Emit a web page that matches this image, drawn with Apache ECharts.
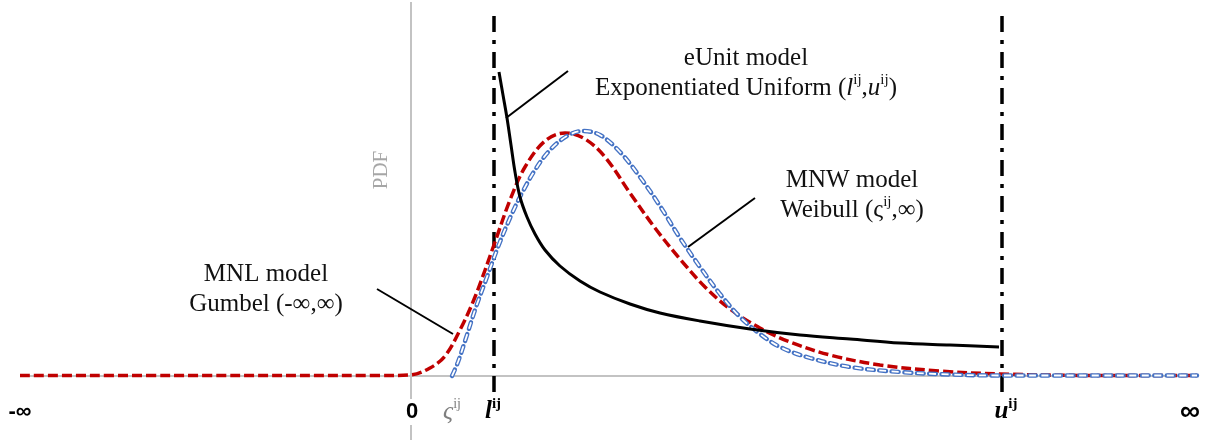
<!DOCTYPE html>
<html>
<head>
<meta charset="utf-8">
<script src="https://cdn.jsdelivr.net/npm/echarts@6/dist/echarts.min.js"></script>
<style>
  html, body { margin: 0; padding: 0; background: #ffffff; }
  #chart { width: 1208px; height: 440px; }
</style>
</head>
<body>
<div id="chart"></div>
<script>
// Position on the latent utility axis (0 at the origin) and density heights.
const gumbelX = [-3.90, -2.10, -0.30, 0.00, 0.20, 0.35, 0.50, 0.65, 0.85, 1.00, 1.15, 1.35, 1.55, 1.75, 1.95, 2.20, 2.45, 2.70, 2.95, 3.20, 3.50, 3.80, 4.20, 4.70, 5.30, 5.90, 6.90, 7.87];
const gumbelY = [0.005, 0.005, 0.005, 0.01, 0.08, 0.20, 0.46, 0.79, 1.34, 1.76, 2.09, 2.35, 2.43, 2.37, 2.19, 1.83, 1.48, 1.17, 0.89, 0.67, 0.48, 0.34, 0.21, 0.11, 0.05, 0.02, 0.005, 0.005];

const weibullX = [0.42, 0.48, 0.56, 0.66, 0.77, 0.88, 1.00, 1.12, 1.25, 1.40, 1.57, 1.73, 1.90, 2.10, 2.30, 2.50, 2.70, 2.90, 3.10, 3.30, 3.50, 3.70, 4.00, 4.40, 4.90, 5.40, 5.90, 7.87];
const weibullY = [0.0, 0.14, 0.38, 0.69, 0.99, 1.29, 1.58, 1.83, 2.06, 2.26, 2.40, 2.45, 2.41, 2.24, 1.99, 1.70, 1.38, 1.09, 0.82, 0.59, 0.42, 0.29, 0.18, 0.09, 0.04, 0.015, 0.005, 0.005];

const eunitX = [0.89, 0.93, 0.97, 1.01, 1.05, 1.10, 1.17, 1.25, 1.35, 1.50, 1.70, 1.90, 2.20, 2.50, 2.90, 3.40, 3.90, 4.40, 4.90, 5.40, 5.89];
const eunitY = [3.04, 2.81, 2.58, 2.31, 2.04, 1.79, 1.59, 1.42, 1.26, 1.10, 0.95, 0.84, 0.72, 0.63, 0.55, 0.47, 0.41, 0.37, 0.33, 0.31, 0.29];

// Support bounds on the axis
const lowerBound = 0.84;   // l^ij
const upperBound = 5.92;   // u^ij
const weibullStart = 0.42; // ς^ij

// Tick labels along the horizontal axis: [x, text]
const tickLabels = [
  [-3.90, '{b|-∞}'],
  [0.02, '{z|0}'],
  [weibullStart, '{gi|ς}{gs|ij}'],
  [lowerBound - 0.01, '{bi|l}{bs|ij}'],
  [upperBound + 0.04, '{bi|u}{bs|ij}'],
  [7.80, '{inf|∞}']
];

// Leader lines from each caption to its curve: [[x1,y1],[x2,y2]]
const leaders = [
  [[1.58, 3.05], [0.96, 2.58]],
  [[3.45, 1.78], [2.78, 1.29]],
  [[-0.33, 0.87], [0.43, 0.42]]
];

// Captions: [x, y, text]
const captions = [
  [3.36, 3.03, '{t|eUnit model}\n{t|Exponentiated Uniform (}{ti|l}{ts|ij}{t|,}{ti|u}{ts|ij}{t|)}'],
  [4.42, 1.81, '{t|MNW model}\n{t|Weibull (ς}{ts|ij}{t|,∞)}'],
  [-1.44, 0.87, '{t|MNL model}\n{t|Gumbel (-∞,∞)}']
];

const pairs = (xs, ys) => xs.map((x, i) => [x, ys[i]]);

const serif = '"Liberation Serif", "Times New Roman", serif';
const sans = '"Liberation Sans", Arial, sans-serif';

const captionRich = {
  t: { fontFamily: serif, fontSize: 25, color: '#111111', lineHeight: 30 },
  ti: { fontFamily: serif, fontSize: 25, fontStyle: 'italic', color: '#111111', lineHeight: 30 },
  ts: { fontFamily: serif, fontSize: 15, color: '#111111', verticalAlign: 'top', lineHeight: 22 }
};

const tickRich = {
  b: { fontFamily: sans, fontSize: 22, fontWeight: 'bold', color: '#000' },
  z: { fontFamily: sans, fontSize: 22, fontWeight: 'bold', color: '#000', backgroundColor: '#fff', padding: [2, 2, 2, 2] },
  gi: { fontFamily: serif, fontSize: 25, fontStyle: 'italic', color: '#7f7f7f', lineHeight: 30 },
  gs: { fontFamily: serif, fontSize: 14, color: '#7f7f7f', verticalAlign: 'top', lineHeight: 22 },
  bi: { fontFamily: serif, fontSize: 25, fontStyle: 'italic', fontWeight: 'bold', color: '#000', lineHeight: 30 },
  bs: { fontFamily: serif, fontSize: 15, fontWeight: 'bold', color: '#000', verticalAlign: 'top', lineHeight: 22 },
  inf: { fontFamily: sans, fontSize: 28, fontWeight: 'bold', color: '#000' }
};

const segment = (data, style, z) => ({
  type: 'line', data: data, symbol: 'none', silent: true, z: z,
  lineStyle: style, animation: false
});

const textLayer = (data, z) => ({
  type: 'scatter', symbolSize: 0, z: z, silent: true,
  itemStyle: { opacity: 1 },
  data: data
});

const chart = echarts.init(document.getElementById('chart'), null, { renderer: 'canvas' });

chart.setOption({
  animation: false,
  backgroundColor: '#ffffff',
  grid: { left: 0, right: 0, top: 0, bottom: 0 },
  xAxis: { type: 'value', min: -4.10, max: 7.98, show: false },
  yAxis: { type: 'value', min: -0.64, max: 3.76, show: false },
  series: [
    // horizontal and vertical axis lines
    segment([[-3.90, 0], [7.87, 0]], { color: '#c3c3c3', width: 2 }, 1),
    segment([[0.01, 3.74], [0.01, -0.64]], { color: '#c3c3c3', width: 2 }, 1),
    // support bounds
    segment([[lowerBound, 3.60], [lowerBound, -0.19]], { color: '#000', width: 3.5, type: [16, 8, 4, 8] }, 2),
    segment([[upperBound, 3.60], [upperBound, -0.19]], { color: '#000', width: 3.5, type: [16, 8, 4, 8] }, 2),
    // Gumbel density (MNL)
    {
      type: 'line', name: 'Gumbel', data: pairs(gumbelX, gumbelY), symbol: 'none', smooth: 0.35, z: 3,
      lineStyle: { color: '#c00000', width: 3.5, type: [10, 4] }
    },
    // Weibull density (MNW), drawn as a hollow dashed line
    {
      type: 'line', name: 'Weibull', data: pairs(weibullX, weibullY), symbol: 'none', smooth: 0.35, z: 4,
      lineStyle: { color: '#4472c4', width: 4.4, type: [7, 5.5], cap: 'round' }
    },
    {
      type: 'line', name: 'WeibullInner', data: pairs(weibullX, weibullY), symbol: 'none', smooth: 0.35, z: 5,
      lineStyle: { color: '#ffffff', width: 1.8, type: [7, 5.5] }
    },
    // Exponentiated uniform density (eUnit)
    {
      type: 'line', name: 'eUnit', data: pairs(eunitX, eunitY), symbol: 'none', smooth: 0.35, z: 6,
      lineStyle: { color: '#000000', width: 3 }
    },
    // caption leader lines
    ...leaders.map(seg => segment(seg, { color: '#000', width: 2 }, 7)),
    // captions
    textLayer(captions.map(c => ({
      value: [c[0], c[1]],
      label: { show: true, position: 'inside', align: 'center', verticalAlign: 'middle', formatter: c[2], rich: captionRich }
    })), 8),
    // axis tick labels
    textLayer(tickLabels.map(t => ({
      value: [t[0], -0.36],
      label: { show: true, position: 'inside', align: 'center', verticalAlign: 'middle', formatter: t[1], rich: tickRich }
    })), 9),
    // y axis title
    textLayer([{
      value: [-0.29, 2.06],
      label: { show: true, position: 'inside', rotate: 90, formatter: 'PDF',
               fontFamily: serif, fontSize: 21, color: '#a6a6a6' }
    }], 9)
  ]
});
</script>
</body>
</html>
